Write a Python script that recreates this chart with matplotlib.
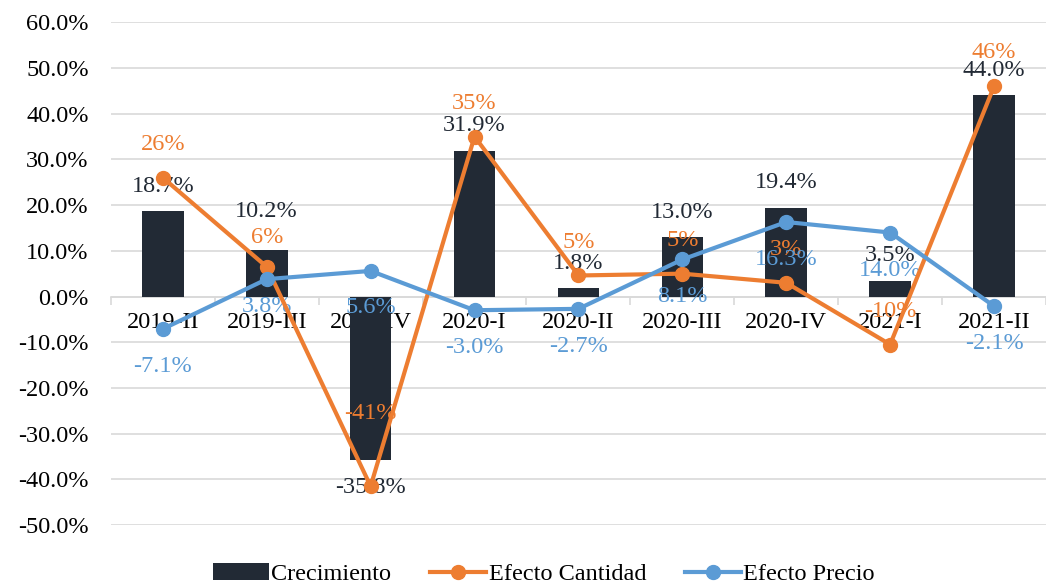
import matplotlib
import matplotlib.pyplot as plt
from matplotlib.ticker import FuncFormatter, FixedLocator

matplotlib.use("Agg")

periodos = ["2019-II", "2019-III", "2019-IV", "2020-I", "2020-II",
            "2020-III", "2020-IV", "2021-I", "2021-II"]
crecimiento = [18.7, 10.2, -35.8, 31.9, 1.8, 13.0, 19.4, 3.5, 44.0]
efecto_cantidad = [26, 6.5, -41.5, 35, 4.6, 5.0, 3.0, -10.5, 46]
cantidad_labels = ["26%", "6%", "-41%", "35%", "5%", "5%", "3%", "-10%", "46%"]
efecto_precio = [-7.1, 3.8, 5.6, -3.0, -2.7, 8.1, 16.3, 14.0, -2.1]

BAR = "#222a35"
ORANGE = "#ed7d31"
BLUE = "#5b9bd5"
GRID = "#d9d9d9"

plt.rcParams["font.family"] = ["Liberation Serif", "DejaVu Serif"]
plt.rcParams["font.size"] = 17.5

fig = plt.figure(figsize=(10.46, 5.86), dpi=100)
ax = fig.add_axes([0.106, 0.104, 0.894, 0.858])

x = list(range(len(periodos)))
bars = ax.bar(x, crecimiento, width=0.4, color=BAR, zorder=2, label="Crecimiento")
l1, = ax.plot(x, efecto_cantidad, color=ORANGE, lw=3, marker="o", ms=10,
              zorder=4, label="Efecto Cantidad")
l2, = ax.plot(x, efecto_precio, color=BLUE, lw=3, marker="o", ms=10,
              zorder=5, label="Efecto Precio")

ax.set_xlim(-0.5, len(periodos) - 0.5)
ax.set_ylim(-50, 60)
ax.set_yticks(range(-50, 61, 10))
ax.yaxis.set_major_formatter(FuncFormatter(lambda v, p: f"{v:.1f}%"))
ax.grid(axis="y", color=GRID, lw=1.2, zorder=0)
ax.set_axisbelow(True)

for s in ["top", "right", "left"]:
    ax.spines[s].set_visible(False)
ax.spines["bottom"].set_position(("data", 0))
ax.spines["bottom"].set_color(GRID)
ax.spines["bottom"].set_linewidth(1.2)
ax.spines["bottom"].set_zorder(1)

ax.set_xticks(x)
ax.set_xticklabels(periodos)
ax.tick_params(axis="x", length=0, pad=11)
ax.xaxis.set_minor_locator(FixedLocator([i - 0.5 for i in range(len(periodos) + 1)]))
ax.tick_params(axis="x", which="minor", length=6, color=GRID, width=1.2)
ax.tick_params(axis="y", length=0, pad=16)

# data labels (drawn under the lines, over the bars)
bar_off = {1: 28}
for i, v in enumerate(crecimiento):
    off = bar_off.get(i, 18) if v >= 0 else -20
    ax.annotate(f"{v:.1f}%", (i, v), xytext=(0, off), textcoords="offset points",
                ha="center", va="center", color=BAR, zorder=3)

cant_off = {2: 52, 1: 21}
for i, (v, t) in enumerate(zip(efecto_cantidad, cantidad_labels)):
    ax.annotate(t, (i, v), xytext=(0, cant_off.get(i, 24)), textcoords="offset points",
                ha="center", va="center", color=ORANGE, zorder=3)

precio_off = {1: -20, 2: -26}
for i, v in enumerate(efecto_precio):
    ax.annotate(f"{v:.1f}%", (i, v), xytext=(0, precio_off.get(i, -27)),
                textcoords="offset points", ha="center", va="center",
                color=BLUE, zorder=3)

ax.legend(handles=[bars, l1, l2], loc="center", bbox_to_anchor=(0.52, 0.02),
          bbox_transform=fig.transFigure, ncol=3, frameon=False,
          handlelength=2.3, columnspacing=1.6, handletextpad=0.1, borderpad=0)

fig.savefig("out.png", dpi=100)
